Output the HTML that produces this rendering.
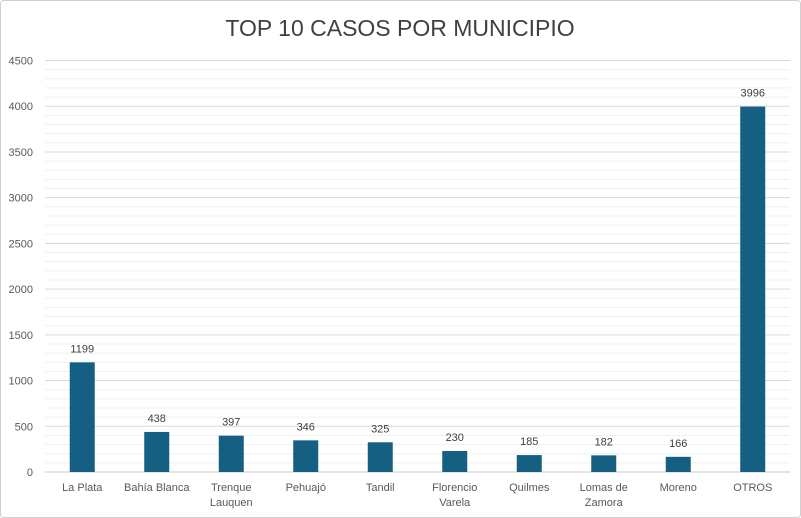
<!DOCTYPE html>
<html><head><meta charset="utf-8"><style>
body{margin:0;background:#fff;}
svg{display:block;font-family:"Liberation Sans",sans-serif;}
</style></head><body>
<svg id="chart" width="801" height="518">
<rect x="0.5" y="0.5" width="800" height="517" fill="#fff" stroke="#d0d0d0" rx="3"/>
<text x="400" y="36" text-anchor="middle" font-size="23" fill="#404040">TOP 10 CASOS POR MUNICIPIO</text>
<g id="grid"></g><g id="bars"></g><g id="labels"></g>
</svg>
<script>
const categories=[["La Plata"],["Bahía Blanca"],["Trenque","Lauquen"],["Pehuajó"],["Tandil"],["Florencio","Varela"],["Quilmes"],["Lomas de","Zamora"],["Moreno"],["OTROS"]];
const values=[1199,438,397,346,325,230,185,182,166,3996];
const yTicks=[0,500,1000,1500,2000,2500,3000,3500,4000,4500];
const NS="http://www.w3.org/2000/svg";
const x0=45,x1=790,y0=472,yTop=60.5,yMax=4500;
const y=v=>y0-(v/yMax)*(y0-yTop);
const band=(x1-x0)/categories.length;
const xc=i=>x0+band*(i+0.5);
function mk(tag,attrs,parent,text){const e=document.createElementNS(NS,tag);for(const k in attrs)e.setAttribute(k,attrs[k]);if(text!==undefined)e.textContent=text;parent.appendChild(e);return e;}
const grid=document.getElementById('grid'),bars=document.getElementById('bars'),labels=document.getElementById('labels');
for(let v=100;v<=yMax;v+=100){if(v%500===0)continue;
 const l=mk('line',{x1:x0,x2:x1,y1:y(v),y2:y(v),stroke:'#efefef','stroke-width':1},grid);
 
 }
yTicks.forEach(v=>{
 const l=mk('line',{x1:x0,x2:x1,y1:y(v),y2:y(v),stroke:v===0?'#c8c8c8':'#d9d9d9','stroke-width':1},grid);
 
 
 const t=mk('text',{x:33,y:y(v)+4,'text-anchor':'end','font-size':11,fill:'#595959'},grid,String(v));
 
 
});
values.forEach((v,i)=>{
 const r=mk('rect',{x:xc(i)-12.5,y:y(v),width:25,height:y0-y(v),fill:'#156082'},bars);
 
 
 const t=mk('text',{x:xc(i),y:y(v)-10,'text-anchor':'middle','font-size':11,fill:'#404040'},labels,String(v));
 
 
 categories[i].forEach((line,j)=>{
  const c=mk('text',{x:xc(i),y:491+j*15,'text-anchor':'middle','font-size':11,fill:'#595959'},labels,line);
  
  
 });
});
</script>
</body></html>
